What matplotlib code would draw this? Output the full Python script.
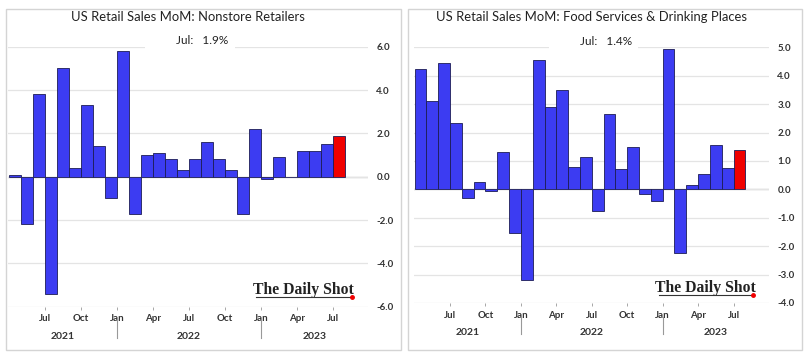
import matplotlib
matplotlib.use("Agg")
import matplotlib.pyplot as plt
from matplotlib.patches import Rectangle

plt.rcParams['font.family'] = ['Lato', 'DejaVu Sans']

# monthly values, Apr 2021 .. Jul 2023
months = ['Apr', 'May', 'Jun', 'Jul', 'Aug', 'Sep', 'Oct', 'Nov', 'Dec',
          'Jan', 'Feb', 'Mar', 'Apr', 'May', 'Jun', 'Jul', 'Aug', 'Sep', 'Oct', 'Nov', 'Dec',
          'Jan', 'Feb', 'Mar', 'Apr', 'May', 'Jun', 'Jul']
nonstore = [0.1, -2.2, 3.8, -5.4, 5.0, 0.4, 3.3, 1.4, -1.0,
            5.8, -1.7, 1.0, 1.1, 0.8, 0.3, 0.8, 1.6, 0.8, 0.3, -1.7, 2.2,
            -0.1, 0.9, 0.0, 1.2, 1.2, 1.5, 1.9]
food = [4.25, 3.1, 4.45, 2.35, -0.3, 0.25, -0.05, 1.3, -1.55,
        -3.2, 4.55, 2.9, 3.5, 0.8, 1.15, -0.75, 2.65, 0.7, 1.5, -0.15, -0.4,
        4.95, -2.25, 0.15, 0.55, 1.55, 0.75, 1.4]
tick_months = ['Jul', 'Oct', 'Jan', 'Apr', 'Jul', 'Oct', 'Jan', 'Apr', 'Jul']
tick_idx = [3, 6, 9, 12, 15, 18, 21, 24, 27]
years = ['2021', '2022', '2023']
year_pos = [4, 14.5, 25]
year_sep = [8.5, 20.5]

BLUE = '#3c3cf2'
RED = '#f00000'

fig = plt.figure(figsize=(8.08, 3.6), dpi=100)

# panel borders
for x0, x1 in [(6, 401), (408, 802)]:
    fig.patches.append(Rectangle((x0 / 808, 1 - 350 / 360), (x1 - x0) / 808, 341 / 360,
                                 transform=fig.transFigure, fill=False,
                                 edgecolor='#d4d4d4', linewidth=1.0))


def draw_panel(rect, vals, ylim, yticks, title, label, xmax, title_y, wm_y):
    ax = fig.add_axes(rect)
    x = list(range(len(vals)))
    colors = [BLUE] * (len(vals) - 1) + [RED]
    ax.bar(x, vals, width=1.0, color=colors, edgecolor='#1c1c55', linewidth=0.6, zorder=3)
    ax.set_xlim(-0.55, xmax)
    ax.set_ylim(*ylim)
    ax.set_yticks(yticks)
    ax.set_yticklabels([f'{v:.1f}' for v in yticks])
    ax.yaxis.tick_right()
    ax.tick_params(axis='y', length=0, pad=6, labelsize=7, labelcolor='#333333')
    for lab in ax.get_yticklabels():
        lab.set_fontweight('bold')
    ax.grid(axis='y', color='#e4e4e4', linewidth=0.9, zorder=0)
    ax.axhline(0, color='#b0b0b0', linewidth=0.9, zorder=1)
    ax.set_xticks([i - 0.5 for i in tick_idx])
    ax.set_xticklabels(tick_months)
    ax.tick_params(axis='x', length=2.5, width=0.6, color='#999999', pad=3,
                   labelsize=7, labelcolor='#333333')
    for lab in ax.get_xticklabels():
        lab.set_fontweight('bold')
    for s in ax.spines.values():
        s.set_visible(False)
    tr = ax.get_xaxis_transform()
    for xs in year_sep:
        ax.plot([xs, xs], [-0.055, -0.12], transform=tr, color='#999999',
                linewidth=0.8, clip_on=False)
    for yl, xp in zip(years, year_pos):
        ax.text(xp, -0.115, yl, transform=tr, ha='center', va='center',
                fontsize=7.5, fontweight='bold', color='#333333')
    ax.text(0.5, title_y, title, transform=ax.transAxes, ha='center', va='center',
            fontsize=9.4, color='#222222')
    ax.add_patch(Rectangle((0.38, 0.99), 0.25, 0.06, transform=ax.transAxes,
                           facecolor='white', edgecolor='none', zorder=4, clip_on=False))
    ax.text(0.54, 1.024, label, transform=ax.transAxes, ha='center', va='center',
            fontsize=8.5, color='#222222', zorder=5)
    # watermark
    ax.text(0.822, wm_y + 0.012, 'The Daily Shot', transform=ax.transAxes, ha='center',
            va='baseline', fontsize=11.3, fontweight='bold', family='Liberation Serif',
            color='#222222', zorder=5)
    ax.plot([0.69, 0.95], [wm_y, wm_y], transform=ax.transAxes, color='#333333',
            linewidth=0.8, zorder=5)
    ax.plot([0.955], [wm_y], 'o', transform=ax.transAxes, color=RED,
            markersize=2.5, zorder=6)
    return ax


draw_panel([8 / 808, 1 - 306.7 / 360, 360 / 808, 260 / 360], nonstore, (-6, 6),
           [-6, -4, -2, 0, 2, 4, 6], 'US Retail Sales MoM: Nonstore Retailers',
           'Jul:   1.9%', 29.4, 1.114, 0.037)
draw_panel([414 / 808, 1 - 302.9 / 360, 355 / 808, 255.6 / 360], food, (-4, 5),
           [-4, -3, -2, -1, 0, 1, 2, 3, 4, 5],
           'US Retail Sales MoM: Food Services & Drinking Places',
           'Jul:   1.4%', 29.5, 1.118, 0.031)

fig.savefig('out.png', dpi=100)
